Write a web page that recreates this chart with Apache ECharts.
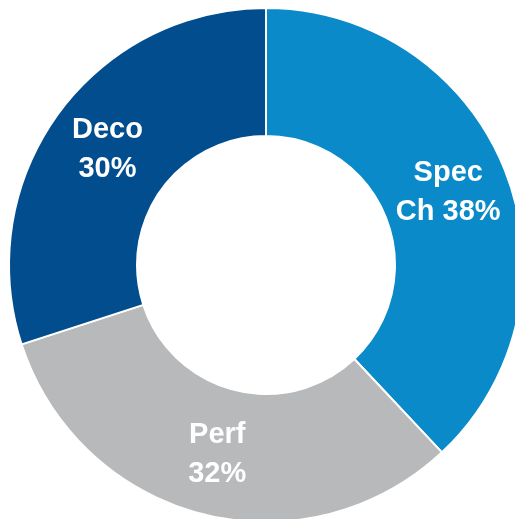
<!DOCTYPE html>
<html>
<head>
<meta charset="utf-8">
<script src="https://cdn.jsdelivr.net/npm/echarts@6/dist/echarts.min.js"></script>
<style>
html,body{margin:0;padding:0;background:#fff;}
#chart{width:515px;height:519px;}
</style>
</head>
<body>
<div id="chart"></div>
<script>
const categories = ["Spec\nCh", "Perf", "Deco"];
const labelTexts = ["Spec\nCh 38%", "Perf\n32%", "Deco\n30%"];
const values = [38, 32, 30];
const colors = ["#0A8AC8", "#B8B9BB", "#024D8E"];

const chart = echarts.init(document.getElementById('chart'), null, {renderer: 'canvas'});
chart.setOption({
  animation: false,
  series: [{
    type: 'pie',
    center: [266, 265],
    radius: [129, 257],
    startAngle: 90,
    clockwise: true,
    avoidLabelOverlap: false,
    itemStyle: { borderColor: '#fff', borderWidth: 2 },
    label: {
      show: true,
      position: 'inside',
      color: '#fff',
      fontFamily: 'Liberation Sans, Arial, sans-serif',
      fontWeight: 'bold',
      fontSize: 29,
      lineHeight: 39,
      align: 'center',
      formatter: p => labelTexts[p.dataIndex]
    },
    labelLine: { show: false },
    emphasis: { disabled: true },
    data: categories.map((c, i) => ({ name: c, value: values[i], itemStyle: { color: colors[i] } }))
  }]
});
</script>
</body>
</html>
